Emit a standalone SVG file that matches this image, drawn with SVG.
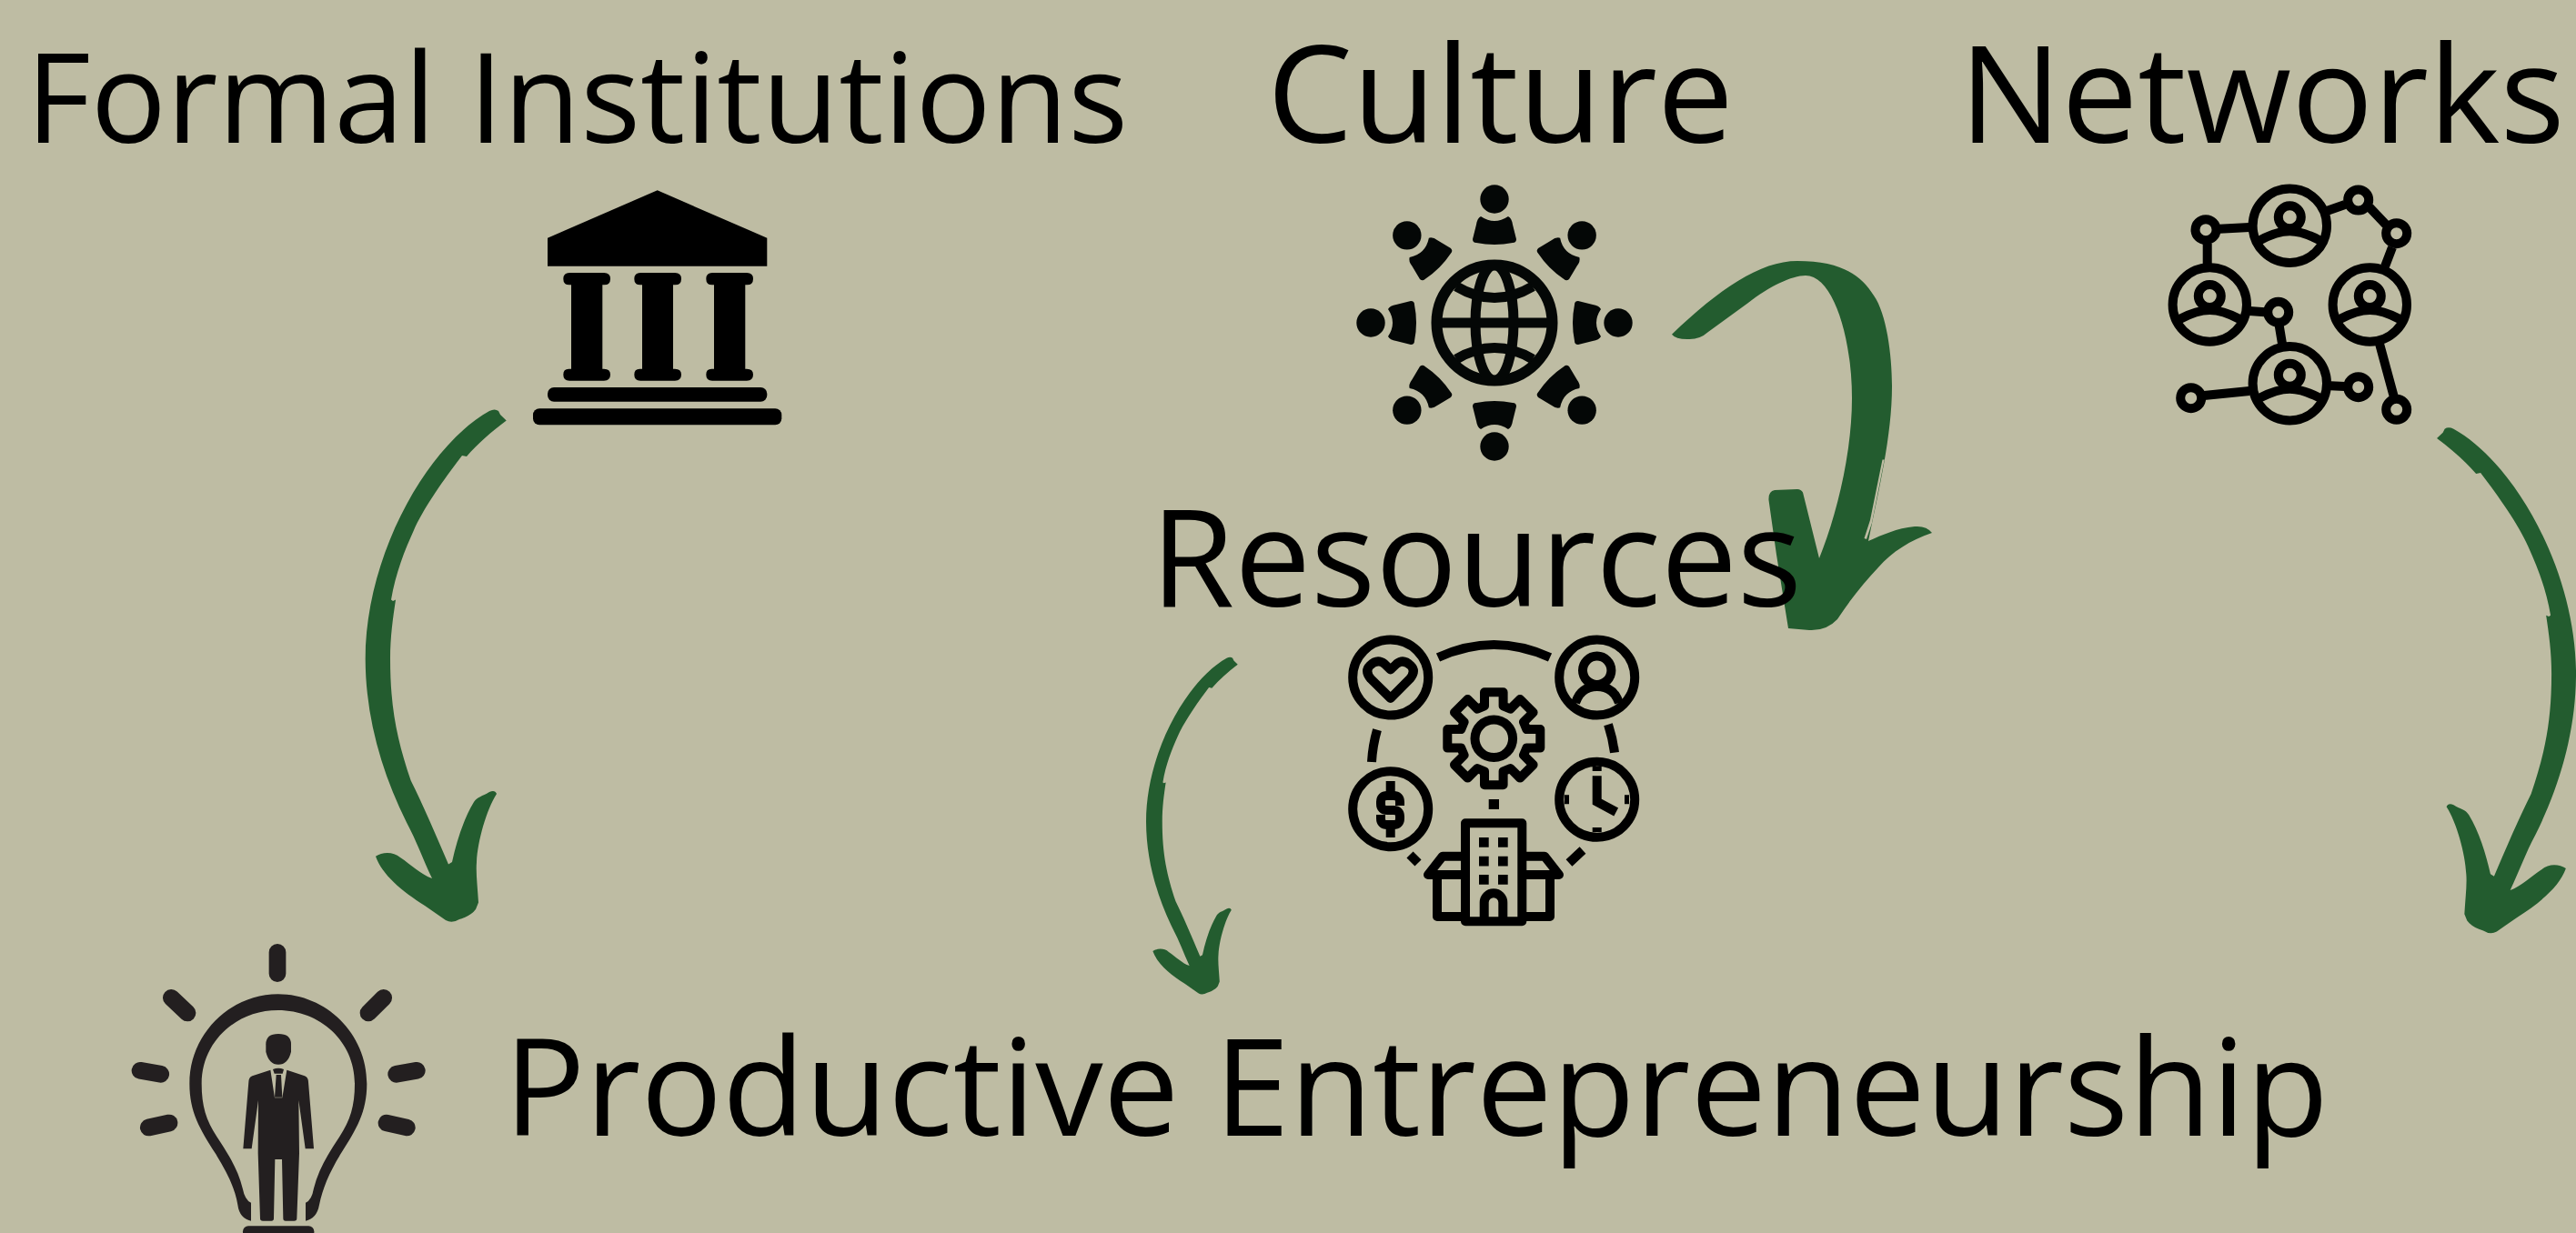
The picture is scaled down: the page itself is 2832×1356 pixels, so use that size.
<svg xmlns="http://www.w3.org/2000/svg" width="2832" height="1356" viewBox="0 0 2832 1356">
<style>
.t{font-family:"Open Sans","Noto Sans",sans-serif;font-size:149.3px;fill:#000}
.a{fill:#235c2f}
.s{fill:none;stroke:#000;stroke-width:10}
.f{fill:#040706}
.b{fill:#231f20}
.r{fill:none;stroke:#231f20;stroke-width:18.7;stroke-linecap:round}
</style>
<defs>
<path id="arrow" class="a" d="M556.7,462.5 L550,456 L548,452 Q544,449 538,452 C470,490 401.7,610 401.7,725 C402,790 420,850 447,904.5 C458,925 465,945 475,966 C463,962 452,951 440,943 C432,936 420,937 413,941.7 C420,962 442,980 467,996 L490,1012 Q497,1016 505,1011 C515,1008 520,1004 523,1000 L526,992.6 C525,975 523,960 524,948 C525,925 535,890 546,873 Q544,868 538,871 C530,876 525,876 521,882 C510,900 502,925 497,948 L493,950.5 C480,920 465,885 451.7,858.6 C437,815 429,780 429,724.7 C429,700 432,680 435,659.6 L432,661 L430,659.6 C435,630 445,605 455,583 C465,560 488,527 508,501 L513,502 C525,488 540,475 556.7,462.5 Z"/>
<path id="body" class="f" d="M-15,-117 Q0,-107 15,-117 Q19,-115 20,-108 L24,-92 Q24,-88 20,-88 Q0,-84 -20,-88 Q-24,-88 -24,-92 L-20,-108 Q-19,-115 -15,-117 Z"/>
<g id="person">
<circle cx="0" cy="0" r="15.7" class="f" transform="translate(0,-136)"/>
<use href="#body"/>
</g>
<g id="netp">
<circle r="40.7" class="s"/>
<circle cy="-9.5" r="12.5" class="s"/>
<path class="s" d="M-33,16 Q-14,6 0,6 Q14,6 33,16"/>
</g>
</defs>
<rect width="2832" height="1356" fill="#bebca3"/>
<g id="connectors">
<use href="#arrow"/>
<use href="#arrow" transform="translate(998.9,426.4) scale(.65,.658)"/>
<use href="#arrow" transform="translate(3228.5,25.6) scale(-.987,.987)"/>
<path class="a" d="M1838,367.7 Q1842,373 1855,373 Q1868,374 1878,365 L1922,333 C1945,315 1970,303 1985,303 C2015,303 2036,370 2036,438 C2036,500 2018,570 2000,614 L1982,541.6 Q1980,538 1976,538 L1951,539 Q1944,540 1944.5,550 L1953,610 L1966,691 L1989,693 Q2008,694 2020,681 C2035,658 2050,640 2065,624 C2080,607 2100,594 2124,586 Q2118,578 2105,579 C2085,581 2070,588 2054,595 C2065,540 2080,480 2080,424.5 C2080,390 2074,345 2060,325 C2045,300 2020,287 1976,287 C1935,287 1890,318 1838,367.7 Z"/>
<path d="M2069.5,505.4 L2071.7,505.4 L2058,575 L2052,593 L2049.5,592 L2056,572 Z" fill="#bebca3"/>
</g>
<g id="formal-institutions">
<text class="t" x="28.5" y="157.3" style="font-size:138.2px">Formal Institutions</text>
<path d="M602,261.7 L722.7,209.3 L843.3,261.7 V292.7 H602 Z"/>
<path d="M626,300 H664 Q671,300 671,306.7 T664,313.3 H662.3 V405.7 H664 Q671,405.7 671,412 T664,418.7 H626 Q619.3,418.7 619.3,412 T626,405.7 H628 V313.3 H626 Q619.3,313.3 619.3,306.7 T626,300 Z"/>
<path d="M704,300 H742 Q749,300 749,306.7 T742,313.3 H740 V405.7 H742 Q749,405.7 749,412 T742,418.7 H704 Q697.3,418.7 697.3,412 T704,405.7 H706 V313.3 H704 Q697.3,313.3 697.3,306.7 T704,300 Z"/>
<path d="M783,300 H821 Q828,300 828,306.7 T821,313.3 H819.3 V405.7 H821 Q828,405.7 828,412 T821,418.7 H783 Q776.3,418.7 776.3,412 T783,405.7 H785 V313.3 H783 Q776.3,313.3 776.3,306.7 T783,300 Z"/>
<rect x="602" y="426" width="241.3" height="15.7" rx="7"/>
<rect x="586" y="449.3" width="273.3" height="18" rx="7"/>
</g>
<g id="culture">
<text class="t" x="1393" y="157">Culture</text>
<g transform="translate(1643,355)">
<ellipse rx="63.5" ry="63.5" fill="none" stroke="#040706" stroke-width="12"/>
<ellipse rx="21" ry="63.5" fill="none" stroke="#040706" stroke-width="11"/>
<path d="M-63,0 H63 M-42,-40 Q0,-15 42,-40 M-42,40 Q0,15 42,40" fill="none" stroke="#040706" stroke-width="11"/>
<use href="#person"/>
<use href="#person" transform="rotate(45)"/>
<use href="#person" transform="rotate(90)"/>
<use href="#person" transform="rotate(135)"/>
<use href="#person" transform="rotate(180)"/>
<use href="#person" transform="rotate(225)"/>
<use href="#person" transform="rotate(270)"/>
<use href="#person" transform="rotate(315)"/>
</g>
</g>
<g id="networks">
<text class="t" x="2154" y="157">Networks</text>
<use href="#netp" x="2517.3" y="248.3"/>
<use href="#netp" x="2429.3" y="335"/>
<use href="#netp" x="2605.3" y="335"/>
<use href="#netp" x="2517.3" y="421.7"/>
<g class="s">
<circle cx="2425" cy="252.7" r="11.5"/>
<circle cx="2592.7" cy="220" r="11.5"/>
<circle cx="2634.7" cy="256.7" r="11.5"/>
<circle cx="2504.7" cy="343.3" r="11.5"/>
<circle cx="2408.7" cy="437.7" r="11.5"/>
<circle cx="2592.7" cy="425.7" r="11.5"/>
<circle cx="2634.7" cy="450.3" r="11.5"/>
<path d="M2440,251.7 L2473,250 M2426.7,268 V292 M2558,232 L2578,225 M2605,228 L2623,247 M2630,272 L2622,293 M2473,342 L2490,343.3 M2505.7,358 L2509,378 M2423,435 L2473,430 M2562,424.3 L2578,425 M2616,378 L2632,437"/>
</g>
</g>
<g id="resources">
<text class="t" x="1265" y="667">Resources</text>
<g class="s">
<circle cx="1528.7" cy="745" r="41.5"/>
<circle cx="1755.7" cy="745" r="41.5"/>
<circle cx="1528.7" cy="889.7" r="41.5"/>
<circle cx="1755.7" cy="879.3" r="41.5"/>
<path d="M1581,723 Q1642.3,695 1704,723 M1514,802.7 Q1509,820 1508,838 M1768,796.7 Q1773,812 1775,827.7 M1550,940 L1559,949 M1740,935 L1725,949"/>
<path d="M1528.7,768 L1507,746.5 Q1500,738 1506,732 Q1514,724 1522,730 L1528.7,736.5 L1535.5,730 Q1543,724 1551,732 Q1557,738 1550,746.5 Z" stroke-linejoin="round"/>
<circle cx="1755.7" cy="737.3" r="15.7"/>
<path d="M1732,773 Q1738,755 1755.7,755 Q1774,755 1780,773"/>
<path d="M1539,886 V882 Q1539,875 1532,875 H1525 Q1518,875 1518,882 V884 Q1518,891 1525,891 H1532 Q1539,891 1539,898 V900 Q1539,907 1532,907 H1525 Q1518,907 1518,900 V896"/>
<path d="M1528.7,859 V875 M1528.7,907 V921 M1755.7,853.3 V881.7 L1776.7,893"/>
<path d="M1755.7,843 V848 M1755.7,910 V915 M1720,879.3 H1725 M1786,879.3 H1791"/>
<path stroke-linejoin="round" d="M1632,776.3 V761.3 H1652.6 V776.3 L1660.5,779.6 L1671.1,769 L1685.6,783.5 L1675,794.1 L1678.3,802 H1693.3 V822.6 H1678.3 L1675,830.5 L1685.6,841.1 L1671.1,855.6 L1660.5,845 L1652.6,848.3 V863.3 H1632 V848.3 L1624.1,845 L1613.5,855.6 L1599,841.1 L1609.6,830.5 L1606.3,822.6 H1591.3 V802 H1606.3 L1609.6,794.1 L1599,783.5 L1613.5,769 L1624.1,779.6 Z"/>
<circle cx="1642.3" cy="812.3" r="20.8"/>
<path stroke-linejoin="round" d="M1611,905.3 H1673.3 V1013.3 H1611 Z M1631.7,1013 V992.6 A10.3,10.3 0 0 1 1652.3,992.6 V1013 M1611,962 H1570 L1586,941.7 H1611 M1673.3,962 H1714 L1698,941.7 H1673.3 M1580,962 V1008 H1611 M1704,962 V1008 H1673.3"/>
</g>
<rect x="1636.7" y="879" width="11.3" height="11"/>
<path d="M1626,921h10.7v10.7h-10.7z M1647,921h10.7v10.7h-10.7z M1626,941.7h10.7v10.7h-10.7z M1647,941.7h10.7v10.7h-10.7z M1626,962h10.7v10.7h-10.7z M1647,962h10.7v10.7h-10.7z"/>
</g>
<g id="productive-entrepreneurship">
<text class="t" x="554" y="1249.3" style="font-size:148.9px">Productive Entrepreneurship</text>
<path class="r" d="M305,1047.3 V1070.7 M188.3,1097.3 L206,1114 M421.7,1097.3 L405,1114 M154,1177.3 L176.7,1181.3 M458.3,1177.3 L435.7,1181.3 M163.3,1240 L186,1235 M447.3,1240 L425,1235"/>
<g transform="translate(120,1020) scale(.33333)">
<path class="b" d="M468,968 Q430,960 424,915 C415,860 390,810 350,745 C300,665 265,610 265,515 C265,350 400,220 557,220 C715,220 850,350 850,515 C850,610 815,665 765,745 C725,810 705,860 693,915 Q685,960 648,968 V908 Q668,900 675,860 C690,800 720,750 760,690 C795,635 810,590 810,515 C810,375 695,273 557,273 C420,273 305,375 305,515 C305,590 320,635 355,690 C395,750 425,800 440,860 Q448,900 468,908 Z"/>
<rect x="441" y="985" width="235" height="60" rx="18" class="b"/>
<path class="b" d="M517,385 Q517,351 558,351 Q600,351 600,385 V410 Q590,452 558,452 Q527,452 517,410 Z"/>
<path class="b" d="M540,468 Q558,460 576,468 L572,482 H545 Z M551,486 H567 L571,560 H546 Z"/>
<path class="b" d="M532,470 L546,562 H571 L586,470 L645,490 Q657,495 657,510 L675,730 H647 L625,570 L627,745 L619,960 Q619,968 610,968 H582 Q574,968 574,960 L570,765 H547 L543,960 Q543,968 535,968 H507 Q498,968 498,960 L491,745 L492,570 L470,730 H442 L460,510 Q460,495 472,490 Z"/>
</g>
</g>
</svg>
